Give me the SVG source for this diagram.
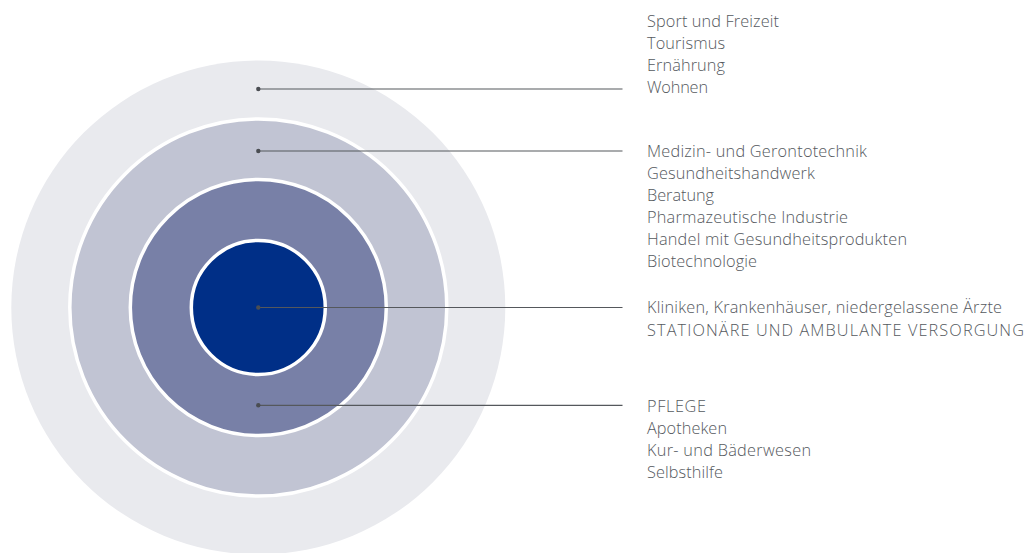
<svg xmlns="http://www.w3.org/2000/svg" width="1030" height="553" viewBox="0 0 1030 553">
<style>
.lbl{font-family:"Open Sans","Liberation Sans",sans-serif;font-size:16.3px;font-weight:300;fill:#55595e}
.ln{stroke:#55585c;stroke-width:1.2;fill:none}
.dot{fill:#4a4d52}
.ring{stroke:#fff;stroke-width:3.5}
</style>
<rect width="1030" height="553" fill="#fff"/>
<g id="ring-outer"><circle cx="258.3" cy="307.5" r="247" fill="#e9eaee"/></g>
<g id="ring-2"><circle class="ring" cx="258.3" cy="307.5" r="188.5" fill="#c1c4d3"/></g>
<g id="ring-3"><circle class="ring" cx="258.3" cy="307.5" r="128" fill="#7880a7"/></g>
<g id="core"><circle class="ring" cx="258.3" cy="307.5" r="67" fill="#002f87"/></g>
<g id="connectors">
<line class="ln" x1="258.3" y1="89" x2="622.5" y2="89"/><circle class="dot" cx="258.3" cy="89" r="2.2"/>
<line class="ln" x1="258.3" y1="151" x2="622.5" y2="151"/><circle class="dot" cx="258.3" cy="151" r="2.2"/>
<line class="ln" x1="258.3" y1="307.5" x2="622.5" y2="307.5"/><circle class="dot" cx="258.3" cy="307.5" r="2.2"/>
<line class="ln" x1="258.3" y1="405.3" x2="622.5" y2="405.3"/><circle class="dot" cx="258.3" cy="405.3" r="2.2"/>
</g>
<g id="label-outer">
<text class="lbl" x="647" y="26.5" textLength="132" lengthAdjust="spacing">Sport und Freizeit</text>
<text class="lbl" x="647" y="48.7" textLength="78" lengthAdjust="spacing">Tourismus</text>
<text class="lbl" x="647" y="70.9" textLength="78" lengthAdjust="spacing">Ernährung</text>
<text class="lbl" x="647" y="93.1" textLength="61" lengthAdjust="spacing">Wohnen</text>
</g>
<g id="label-2">
<text class="lbl" x="647" y="156.7" textLength="220" lengthAdjust="spacing">Medizin- und Gerontotechnik</text>
<text class="lbl" x="647" y="178.7" textLength="168" lengthAdjust="spacing">Gesundheitshandwerk</text>
<text class="lbl" x="647" y="200.7" textLength="67" lengthAdjust="spacing">Beratung</text>
<text class="lbl" x="647" y="222.7" textLength="201" lengthAdjust="spacing">Pharmazeutische Industrie</text>
<text class="lbl" x="647" y="244.7" textLength="260" lengthAdjust="spacing">Handel mit Gesundheitsprodukten</text>
<text class="lbl" x="647" y="266.7" textLength="110" lengthAdjust="spacing">Biotechnologie</text>
</g>
<g id="label-core">
<text class="lbl" x="647" y="313.3" textLength="355" lengthAdjust="spacing">Kliniken, Krankenhäuser, niedergelassene Ärzte</text>
<text class="lbl" x="647" y="335.5" textLength="377" lengthAdjust="spacing">STATIONÄRE UND AMBULANTE VERSORGUNG</text>
</g>
<g id="label-3">
<text class="lbl" x="647" y="411.7" textLength="59" lengthAdjust="spacing">PFLEGE</text>
<text class="lbl" x="647" y="433.9" textLength="80" lengthAdjust="spacing">Apotheken</text>
<text class="lbl" x="647" y="456.1" textLength="164" lengthAdjust="spacing">Kur- und Bäderwesen</text>
<text class="lbl" x="647" y="478.3" textLength="76" lengthAdjust="spacing">Selbsthilfe</text>
</g>
</svg>
